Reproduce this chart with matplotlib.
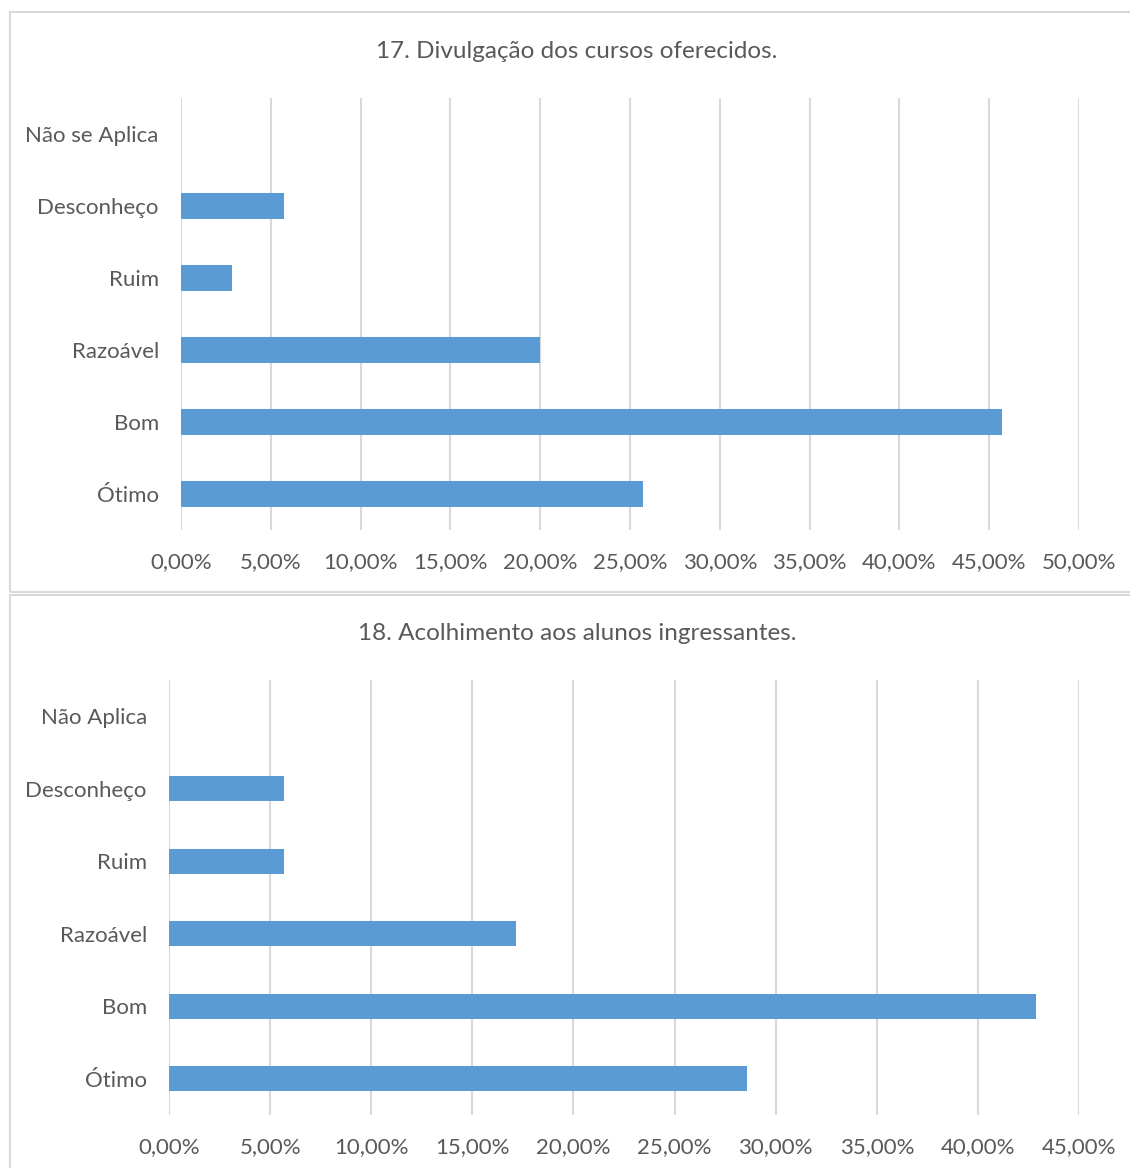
import matplotlib
matplotlib.use("Agg")
import matplotlib.pyplot as plt
from matplotlib.patches import Rectangle
from matplotlib.ticker import FuncFormatter

plt.rcParams['font.family'] = ['Lato', 'DejaVu Sans']

# Chart 17
title_17 = "17. Divulgação dos cursos oferecidos."
categories_17 = ["Ótimo", "Bom", "Razoável", "Ruim", "Desconheço", "Não se Aplica"]
values_17 = [25.71, 45.71, 20.00, 2.86, 5.71, 0.0]
ticks_17 = [0, 5, 10, 15, 20, 25, 30, 35, 40, 45, 50]

# Chart 18
title_18 = "18. Acolhimento aos alunos ingressantes."
categories_18 = ["Ótimo", "Bom", "Razoável", "Ruim", "Desconheço", "Não Aplica"]
values_18 = [28.57, 42.86, 17.14, 5.71, 5.71, 0.0]
ticks_18 = [0, 5, 10, 15, 20, 25, 30, 35, 40, 45]

BAR = "#5b9bd5"
GRID = "#d9d9d9"
TEXT = "#595959"

W, H = 1130, 1168
fig = plt.figure(figsize=(W / 100, H / 100), dpi=100)


def box(x0, y0, x1, y1):
    fig.patches.append(Rectangle((x0 / W, 1 - y1 / H), (x1 - x0) / W, (y1 - y0) / H,
                                 transform=fig.transFigure, fill=False,
                                 edgecolor=GRID, linewidth=1.5))


def axes_px(left, top, right, bottom):
    return fig.add_axes([left / W, 1 - bottom / H, (right - left) / W, (bottom - top) / H])


def panel(ax, cats, vals, ticks, title, title_y):
    ax.barh(range(len(cats)), vals, height=0.35, color=BAR, zorder=3)
    ax.set_ylim(-0.5, len(cats) - 0.5)
    ax.set_xlim(ticks[0], ticks[-1])
    ax.set_xticks(ticks)
    ax.xaxis.set_major_formatter(FuncFormatter(lambda v, p: f"{v:.2f}%".replace(".", ",")))
    ax.set_yticks(range(len(cats)))
    ax.set_yticklabels(cats)
    ax.grid(axis="x", color=GRID, linewidth=1.5, zorder=0)
    for s in ax.spines.values():
        s.set_visible(False)
    ax.tick_params(length=0, labelsize=16, colors=TEXT)
    ax.tick_params(axis="x", pad=16)
    ax.tick_params(axis="y", pad=16)
    fig.text(577 / W, 1 - title_y / H, title, ha="center", va="center",
             fontsize=17.5, color=TEXT)


box(10, 12, 1135, 592)
box(10, 595, 1135, 1175)

ax1 = axes_px(181, 98, 1079, 530)
panel(ax1, categories_17, values_17, ticks_17, title_17, 51)

ax2 = axes_px(169, 680, 1079, 1115)
panel(ax2, categories_18, values_18, ticks_18, title_18, 633)

fig.savefig("out.png", dpi=100, facecolor="white")
